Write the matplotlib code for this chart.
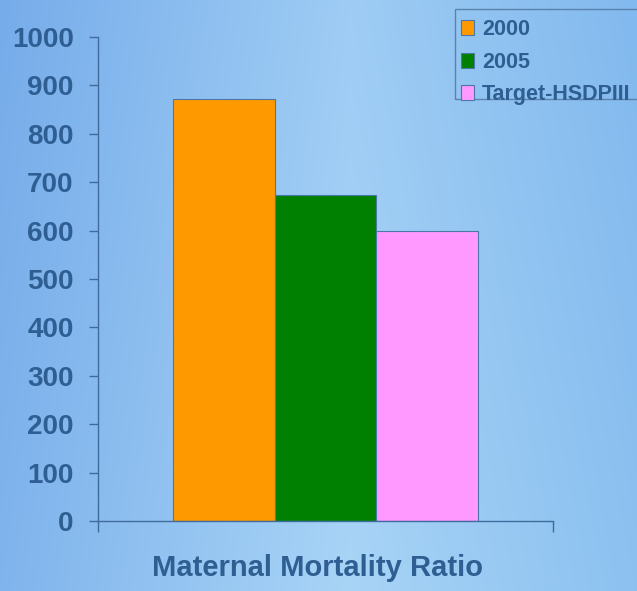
import numpy as np
import matplotlib.pyplot as plt
from matplotlib.patches import Rectangle

# data
series = ["2000", "2005", "Target-HSDPIII"]
values = [871, 673, 600]
colors = ["#FF9900", "#008000", "#FF99FF"]
category = "Maternal Mortality Ratio"
yticks = list(range(0, 1001, 100))

text_col = "#2E5E92"
line_col = "#3F6C9C"

plt.rcParams['font.family'] = ['Liberation Sans', 'DejaVu Sans']
plt.rcParams['font.weight'] = 'bold'

W, H = 637, 591
fig = plt.figure(figsize=(W / 100, H / 100), dpi=100)

# background gradient: darker at the left edge, lightest a bit right of centre
bg = fig.add_axes([0, 0, 1, 1], zorder=-10)
xs = np.linspace(0, 1, 400)
ys = np.linspace(0, 1, 300)  # 0 = bottom
X, Y = np.meshgrid(xs, ys)
stops = np.array([0.0, 0.55, 1.0])
left = np.array([128, 180, 236])
mid = np.array([168, 212, 246])
right = np.array([140, 193, 240])
img = np.zeros(X.shape + (3,))
for k in range(3):
    img[..., k] = np.interp(X, stops, [left[k], mid[k], right[k]])
img = img - Y[..., None] * np.array([10, 8, 2])
bg.imshow(np.clip(img / 255, 0, 1), aspect='auto', extent=[0, 1, 0, 1], origin='lower')
bg.axis('off')

ax = fig.add_axes([98 / W, 1 - 521 / H, 455 / W, 484 / H])
ax.set_facecolor('none')

pos = np.arange(len(series)) - 1
for p, v, c, s in zip(pos, values, colors, series):
    ax.bar(p, v, width=1.0, color=c, edgecolor="#4A78A8", linewidth=0.8, label=s)

ax.set_xlim(-2.24, 2.24)
ax.set_ylim(0, 1000)
ax.set_yticks(yticks)
ax.set_yticklabels([str(t) for t in yticks], fontsize=20, color=text_col, fontweight='bold')
ax.set_xticks([-2.24, 2.24])
ax.set_xticklabels([])
ax.tick_params(axis='y', direction='out', length=6.5, width=1, color=line_col, pad=11)
ax.tick_params(axis='x', direction='out', length=8, width=1, color=line_col)
for side in ['top', 'right']:
    ax.spines[side].set_visible(False)
for side in ['left', 'bottom']:
    ax.spines[side].set_color(line_col)
    ax.spines[side].set_linewidth(1)

fig.text(318 / W, 1 - 568 / H, category, ha='center', va='center',
         fontsize=21, fontweight='bold', color=text_col)

# legend (frame drawn separately, it runs off the right edge)
leg = fig.legend(loc='upper left', bbox_to_anchor=(461 / W, 1 - 19 / H),
                 fontsize=15.5, frameon=False, handlelength=0.62,
                 handleheight=0.7, handletextpad=0.35, labelspacing=0.54,
                 borderpad=0.0, borderaxespad=0)
for t in leg.get_texts():
    t.set_color(text_col)
    t.set_fontweight('bold')
for h in leg.legend_handles:
    h.set_edgecolor("#4A78A8")
fig.patches.append(Rectangle((455 / W, 1 - 99 / H), 200 / W, 90 / H,
                             transform=fig.transFigure, fill=False,
                             edgecolor="#5A82AC", linewidth=1))

fig.savefig("out.png", dpi=100)
